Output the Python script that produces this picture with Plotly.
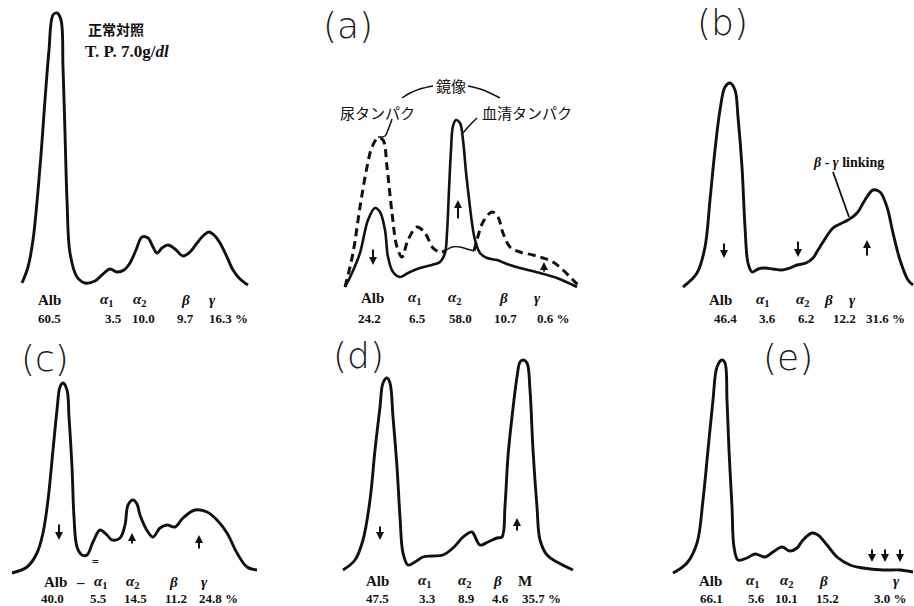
import plotly.graph_objects as go

W, H = 914, 606

# ---------------- data (mobility x, relative density y; per panel) ----------------
# Normal control
normal_x = [22, 28, 33, 40, 45, 49, 53, 57, 61, 63, 65, 67, 70, 77, 85, 95, 103, 110, 117, 124,
            130, 136, 142, 148, 153, 157, 162, 168, 175, 183, 190, 197, 204, 209, 215, 220, 227, 233, 240, 248]
normal_y = [17, 33, 60, 133, 200, 250, 285, 287, 280, 233, 167, 100, 47, 23, 17, 19, 26, 31, 28, 30,
            37, 50, 63, 62, 53, 47, 52, 55, 51, 44, 48, 57, 65, 68, 64, 57, 43, 30, 21, 15]
normal_labels = ["Alb", "<i>α</i><sub>1</sub>", "<i>α</i><sub>2</sub>", "<i>β</i>", "<i>γ</i>"]
normal_values = ["60.5", "3.5", "10.0", "9.7", "16.3 %"]

# (a) urine protein (dashed) and serum protein (solid)
a_urine1_x = [45, 53, 60, 67, 72, 78, 83, 87, 92, 97, 102, 108, 117, 125, 133, 140, 145]
a_urine1_y = [13, 47, 93, 133, 153, 162, 160, 133, 87, 53, 43, 60, 73, 67, 52, 48, 49]
a_urine_mid_x = [145, 152, 160, 167, 174]
a_urine_mid_y = [49, 53, 53, 51, 49]
a_urine2_x = [174, 177, 183, 192, 198, 203, 210, 220, 233, 243, 253, 263, 272, 280]
a_urine2_y = [49, 60, 78, 88, 83, 67, 53, 48, 45, 42, 38, 30, 21, 13]
a_serum_x = [45, 52, 60, 68, 75, 80, 85, 88, 93, 100, 108, 120, 132, 140, 145, 147, 149, 151, 153, 156,
             160, 163, 166, 168, 172, 175, 180, 187, 197, 207, 220, 240, 257, 277]
a_serum_y = [13, 27, 47, 80, 92, 88, 70, 43, 28, 23, 27, 32, 35, 38, 47, 67, 110, 150, 174, 180,
             177, 160, 128, 110, 77, 60, 47, 42, 40, 36, 32, 27, 22, 13]
a_labels = ["Alb", "<i>α</i><sub>1</sub>", "<i>α</i><sub>2</sub>", "<i>β</i>", "<i>γ</i>"]
a_values = ["24.2", "6.5", "58.0", "10.7", "0.6 %"]

# (b) beta-gamma linking
b_x = [73, 87, 95, 100, 105, 110, 115, 120, 125, 128, 132, 135, 138, 142, 148, 155, 163, 172, 180, 187,
       196, 203, 208, 213, 223, 230, 238, 247, 255, 263, 270, 277, 283, 290, 298, 303]
b_y = [13, 27, 53, 100, 150, 190, 213, 217, 210, 183, 133, 73, 37, 28, 31, 32, 31, 30, 32, 35,
       37, 42, 50, 58, 72, 76, 80, 87, 100, 110, 108, 93, 67, 40, 20, 15]
b_labels = ["Alb", "<i>α</i><sub>1</sub>", "<i>α</i><sub>2</sub>", "<i>β</i>", "<i>γ</i>"]
b_values = ["46.4", "3.6", "6.2", "12.2", "31.6 %"]

# (c)
c_x = [12, 27, 37, 43, 48, 53, 57, 60, 63, 67, 69, 72, 74, 77, 82, 87, 93, 100, 107, 112,
       120, 125, 128, 133, 137, 140, 148, 153, 160, 167, 175, 183, 195, 207, 217, 227, 237, 247, 257]
c_y = [33, 39, 53, 73, 106, 156, 196, 219, 223, 216, 189, 139, 89, 59, 51, 51, 64, 76, 71, 66,
       68, 81, 101, 106, 102, 91, 74, 69, 78, 81, 79, 88, 96, 94, 86, 73, 53, 39, 36]
c_labels = ["Alb", "–", "<i>α</i><sub>1</sub>", "<i>α</i><sub>2</sub>", "<i>β</i>", "<i>γ</i>"]
c_values = ["40.0", "5.5", "14.5", "11.2", "24.8 %"]

# (d) M-protein
d_x = [43, 55, 63, 70, 75, 80, 83, 87, 90, 93, 97, 100, 103, 108, 115, 123, 133, 143, 153, 162,
       167, 172, 180, 188, 197, 202, 205, 208, 212, 217, 220, 223, 227, 230, 233, 237, 240, 247, 257, 273]
d_y = [36, 46, 66, 106, 156, 199, 223, 228, 223, 189, 139, 89, 53, 41, 44, 49, 50, 51, 58, 68,
       72, 74, 61, 64, 68, 69, 100, 150, 189, 229, 244, 246, 243, 216, 156, 99, 66, 51, 44, 36]
d_labels = ["Alb", "<i>α</i><sub>1</sub>", "<i>α</i><sub>2</sub>", "<i>β</i>", "M"]
d_values = ["47.5", "3.3", "8.9", "4.6", "35.7 %"]

# (e)
e_x = [63, 77, 87, 93, 98, 103, 107, 112, 115, 117, 119, 122, 124, 128, 137, 145, 155, 163, 172, 180,
       187, 193, 202, 208, 217, 227, 240, 253, 273, 290, 303]
e_y = [33, 43, 63, 106, 156, 206, 239, 246, 243, 206, 156, 99, 59, 46, 48, 52, 49, 54, 59, 55,
       58, 66, 73, 71, 61, 49, 41, 38, 36, 36, 34]
e_labels = ["Alb", "<i>α</i><sub>1</sub>", "<i>α</i><sub>2</sub>", "<i>β</i>", "<i>γ</i>"]
e_values = ["66.1", "5.6", "10.1", "15.2", "3.0 %"]

# ---------------- layout (panel boxes, label placement) ----------------
# left, top, right, bottom in px, and lowest y value shown (room for labels)
boxes = [
    (0, 0, 300, 335, -35), (300, 0, 610, 335, -35), (610, 0, 914, 335, -35),
    (0, 306, 300, 606, 0), (300, 306, 610, 606, 0), (610, 306, 914, 606, 0),
]

fig = go.Figure()
layout = dict(width=W, height=H, margin=dict(l=0, r=0, t=0, b=0),
              paper_bgcolor="white", plot_bgcolor="rgba(0,0,0,0)", showlegend=False)
for i, (l, t, r, b, y0) in enumerate(boxes):
    s = "" if i == 0 else str(i + 1)
    layout["xaxis" + s] = dict(domain=[l / W, r / W], range=[0, r - l], visible=False,
                               fixedrange=True, anchor="y" + s)
    layout["yaxis" + s] = dict(domain=[1 - b / H, 1 - t / H], range=[y0, y0 + (b - t)], visible=False,
                               fixedrange=True, anchor="x" + s)
fig.update_layout(**layout)


def ax(i):
    s = "" if i == 0 else str(i + 1)
    return "x" + s, "y" + s


INK = "#111111"


def curve(i, x, y, width=2.9, dash=None):
    xr, yr = ax(i)
    fig.add_trace(go.Scatter(x=x, y=y, xaxis=xr, yaxis=yr, mode="lines", hoverinfo="skip",
                             line=dict(color=INK, width=width, shape="spline", smoothing=1.0,
                                       dash=dash)))


curve(0, normal_x, normal_y)
curve(1, a_urine1_x, a_urine1_y, width=3, dash="8px,5px")
curve(1, a_urine_mid_x, a_urine_mid_y, width=1.4)
curve(1, a_urine2_x, a_urine2_y, width=3, dash="8px,5px")
curve(1, a_serum_x, a_serum_y, width=2.6)
curve(2, b_x, b_y)
curve(3, c_x, c_y)
curve(4, d_x, d_y)
curve(5, e_x, e_y)

# leader lines / bracket in (a) and (b)
curve(1, [102, 110, 120, 133], [202, 207, 211, 214], width=1.5)
curve(1, [168, 183, 200], [214, 210, 202], width=1.5)
curve(1, [92, 88, 85, 78], [181, 170, 164, 163], width=1.5)
curve(1, [177, 170, 163], [182, 175, 167], width=1.5)
curve(2, [223, 239], [128, 83], width=1.8)

annotations = []


def text(i, x, y, s, size=13, family="Liberation Serif", bold=True, xanchor="center", color=INK,
         weight=None):
    xr, yr = ax(i)
    font = dict(size=size, family=family, color=color)
    if weight is not None:
        font["weight"] = weight
    annotations.append(dict(x=x, y=y, xref=xr, yref=yr, text=("<b>%s</b>" % s) if bold else s,
                            showarrow=False, xanchor=xanchor, yanchor="middle", borderpad=0,
                            font=font))


def arrow(i, x, y0, y1):
    xr, yr = ax(i)
    annotations.append(dict(x=x, y=y1, ax=x, ay=y0, xref=xr, yref=yr, axref=xr, ayref=yr,
                            text="", showarrow=True, arrowhead=2, arrowsize=0.8,
                            arrowwidth=2, arrowcolor=INK))


def label_rows(i, labels, lpos, ly, values, vpos, vy):
    for s, x in zip(labels, lpos):
        text(i, x, ly, s, size=15)
    for s, x in zip(values, vpos):
        text(i, x, vy, s, size=13)


# panel titles (hand-written style)
TITLE_FONT = "DejaVu Sans ExtraLight, DejaVu Sans"
for i, x, y, s in [(1, 48, 275, "(a)"), (2, 112, 278, "(b)"), (3, 45, 248, "(c)"),
                   (4, 58, 251, "(d)"), (5, 178, 249, "(e)")]:
    text(i, x, y, s, size=36, family=TITLE_FONT, bold=False, color="#1a1a1a", weight=200)

# normal control texts
text(0, 87, 271, "正常対照", size=14, family="Noto Sans CJK JP", xanchor="left")
text(0, 84, 249, "T. P. 7.0g/<i>dl</i>", size=17, xanchor="left")

# (a) texts
text(1, 151, 215, "鏡像", size=15, family="Noto Sans CJK JP", bold=False)
text(1, 77, 188, "尿タンパク", size=15, family="Noto Sans CJK JP", bold=False)
text(1, 227, 188, "血清タンパク", size=15, family="Noto Sans CJK JP", bold=False)
# (b) text
text(2, 238, 138, "<i>β</i> - <i>γ</i> linking", size=14)

label_rows(0, normal_labels, [49, 107, 140, 185, 212], 0, normal_values, [49, 113, 143, 185, 228], -18)
label_rows(1, a_labels, [72, 115, 155, 203, 237], 2, a_values, [69, 117, 160, 205, 253], -18)
label_rows(2, b_labels, [110, 153, 193, 218, 242], 0, b_values, [115, 157, 196, 234, 275], -18)
label_rows(3, c_labels, [55, 80, 101, 133, 173, 204], 24, c_values, [52, 98, 135, 176, 218], 8)
label_rows(4, d_labels, [77, 125, 165, 197, 225], 25, d_values, [77, 127, 166, 200, 241], 8)
label_rows(5, e_labels, [100, 143, 177, 213, 286], 25, e_values, [101, 146, 176, 217, 280], 8)
text(3, 95, 44, "=", size=12)

# increase / decrease arrows
arrow(1, 73, 52, 35); arrow(1, 158, 80, 100); arrow(1, 244, 27, 38)
arrow(2, 114, 58, 42); arrow(2, 188, 60, 43); arrow(2, 257, 43, 60)
arrow(3, 59, 83, 66); arrow(3, 132, 61, 73); arrow(3, 199, 56, 71)
arrow(4, 80, 81, 66); arrow(4, 217, 74, 88)
arrow(5, 262, 58, 44); arrow(5, 275, 58, 44); arrow(5, 290, 58, 44)

fig.update_layout(annotations=annotations)
# the page body has a default 8px margin; remove it so the figure fills the window exactly
fig.write_html("out.html", config={"displayModeBar": False},
               post_script="document.body.style.margin='0px';")
